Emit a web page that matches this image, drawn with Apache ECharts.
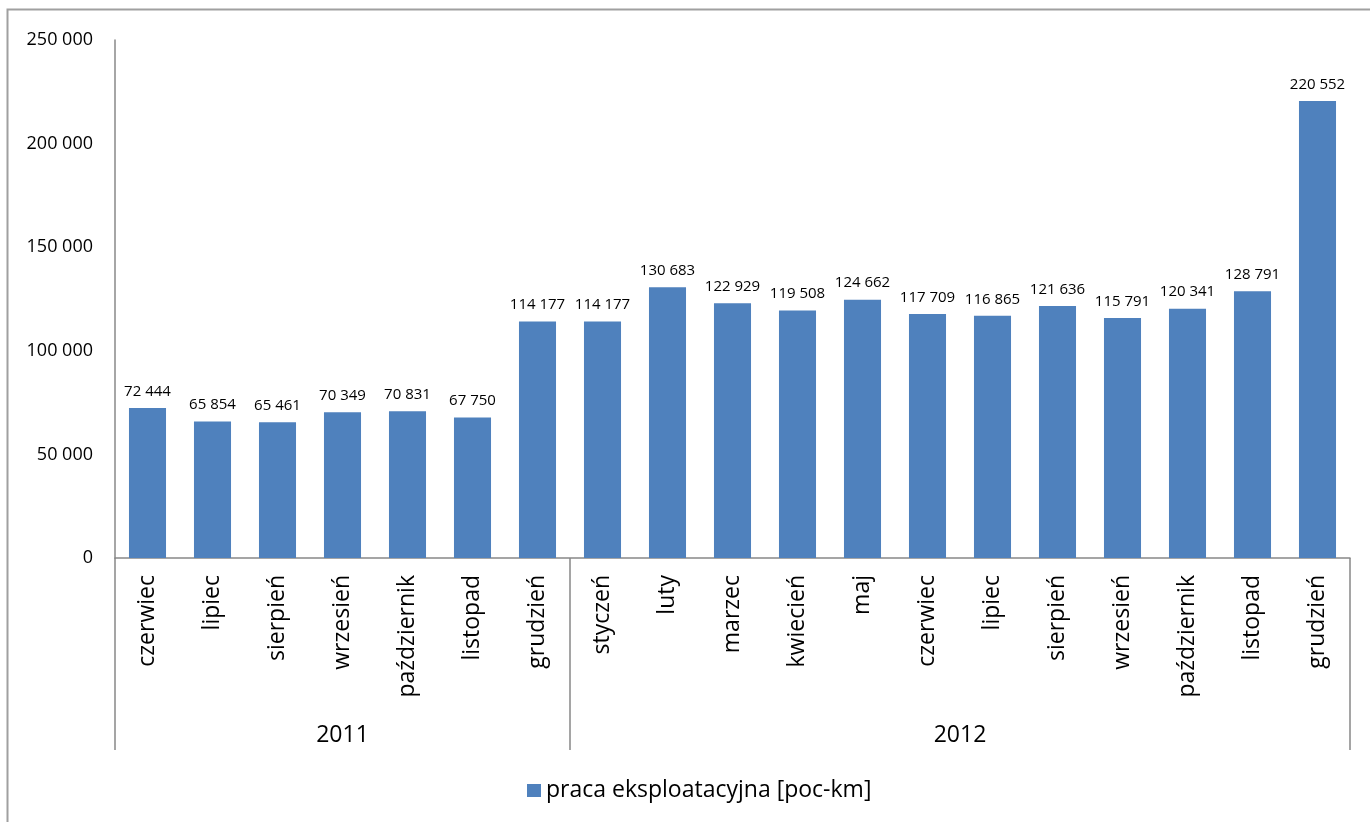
<!DOCTYPE html>
<html><head><meta charset="utf-8">
<script src="https://cdn.jsdelivr.net/npm/echarts@6/dist/echarts.min.js"></script>
<style>html,body{margin:0;padding:0;background:#fff}#c{width:1370px;height:822px}</style>
</head><body><div id="c"></div>
<script>
const months = ['czerwiec','lipiec','sierpień','wrzesień','październik','listopad','grudzień',
  'styczeń','luty','marzec','kwiecień','maj','czerwiec','lipiec','sierpień','wrzesień','październik','listopad','grudzień'];
const values = [72444,65854,65461,70349,70831,67750,114177,
  114177,130683,122929,119508,124662,117709,116865,121636,115791,120341,128791,220552];
const groupNames = ['2011','2012'];
const groupBounds = [0,7,19];
const seriesName = 'praca eksploatacyjna [poc-km]';
const yTicks = {min:0,max:250000,interval:50000};

const fmt = v => String(Math.round(v)).replace(/\B(?=(\d{3})+(?!\d))/g,' ');
const groupCenters = groupNames.map((g,i)=>(groupBounds[i]+groupBounds[i+1])/2);
const FONT = '"Open Sans", sans-serif';
const AX = '#888888';

const chart = echarts.init(document.getElementById('c'));
chart.setOption({
  animation:false,
  textStyle:{fontFamily:FONT},
  graphic:[{type:'rect',shape:{x:7.5,y:9.5,width:1400,height:900},style:{fill:'none',stroke:'#a0a0a0',lineWidth:2},silent:true}],
  grid:{left:115,right:20,top:40,bottom:264,containLabel:false},
  legend:{left:522,top:774,itemWidth:14,itemHeight:13,itemGap:8,icon:'rect',
    textStyle:{fontSize:23,color:'#000',fontFamily:FONT},data:[seriesName]},
  xAxis:[{
    type:'category',data:months,
    axisLine:{show:true,lineStyle:{color:AX,width:1.5}},
    axisTick:{show:false},
    axisLabel:{rotate:90,fontSize:23,color:'#000',margin:17,fontFamily:FONT,interval:0}
  },{
    type:'value',min:0,max:19,position:'bottom',
    axisLine:{show:false},splitLine:{show:false},
    axisTick:{show:true,customValues:groupBounds,length:192,lineStyle:{color:AX,width:1.5}},
    axisLabel:{customValues:groupCenters,margin:166,fontSize:23,color:'#000',fontFamily:FONT,
      formatter:v=>{const i=groupCenters.indexOf(v);return i>=0?groupNames[i]:'';}}
  }],
  yAxis:{type:'value',min:yTicks.min,max:yTicks.max,interval:yTicks.interval,
    axisLine:{show:true,lineStyle:{color:AX,width:1.5}},axisTick:{show:false},splitLine:{show:false},
    axisLabel:{fontSize:18,color:'#000',margin:22,formatter:fmt,fontFamily:FONT}},
  series:[{name:seriesName,type:'bar',data:values,xAxisIndex:0,barCategoryGap:'43%',
    itemStyle:{color:'#4F81BD'},
    label:{show:true,position:'top',distance:9,fontSize:15,color:'#000',fontFamily:FONT,formatter:p=>fmt(p.value)}}]
});
</script></body></html>
